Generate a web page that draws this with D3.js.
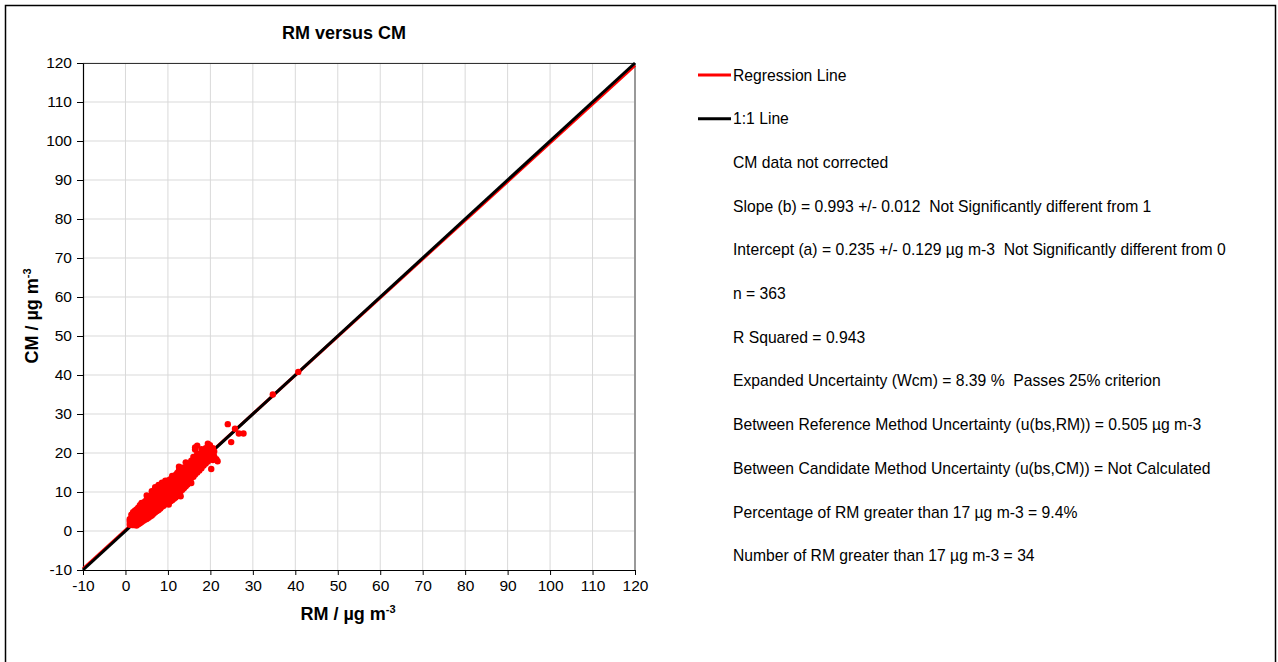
<!DOCTYPE html>
<html>
<head>
<meta charset="utf-8">
<script src="https://cdn.jsdelivr.net/npm/d3@7"></script>
<style>
  body { margin: 0; background: #fff; }
  svg { display: block; font-family: "Liberation Sans", Arial, sans-serif; }
  .grid line { stroke: #d9d9d9; stroke-width: 1; }
  .axis text { font-size: 15.5px; fill: #000; }
  .axis path, .axis line { stroke: #000; }
  .stat { font-size: 15.7px; white-space: pre; }
</style>
</head>
<body>
<div class="panel"></div>
<script>
// Data

const domain = [-10, 120];
const ticks = d3.range(-10, 121, 10);

const slope = 0.993;
const intercept = 0.235;

// RM (x) vs CM (y), estimated from the scatter
const points = [
  [1.0,1.6],[1.0,2.4],[1.0,3.0],
  [1.4,1.9],[1.4,2.6],[1.4,3.4],[1.4,4.2],
  [1.8,1.5],[1.8,2.3],[1.8,3.1],[1.8,3.9],[1.8,4.8],
  [2.2,1.8],[2.2,2.7],[2.2,3.5],[2.2,4.3],[2.2,5.2],
  [2.6,1.4],[2.6,2.2],[2.6,3.0],[2.6,3.8],[2.6,4.6],[2.6,5.5],
  [3.0,1.7],[3.0,2.6],[3.0,3.4],[3.0,4.2],[3.0,5.1],[3.0,6.0],
  [3.4,2.0],[3.4,2.9],[3.4,3.7],[3.4,4.6],[3.4,5.5],[3.4,6.6],
  [3.8,2.3],[3.8,3.2],[3.8,4.1],[3.8,5.0],[3.8,5.9],[3.8,7.2],
  [4.2,2.6],[4.2,3.5],[4.2,4.4],[4.2,5.3],[4.2,6.2],[4.2,7.0],
  [4.6,2.9],[4.6,3.8],[4.6,4.8],[4.6,5.7],[4.6,6.6],[4.6,7.6],
  [5.0,3.1],[5.0,4.2],[5.0,5.1],[5.0,6.0],[5.0,6.9],[5.0,8.0],[5.0,9.1],
  [5.4,3.4],[5.4,4.5],[5.4,5.5],[5.4,6.4],[5.4,7.3],[5.4,8.4],
  [5.8,3.7],[5.8,4.8],[5.8,5.8],[5.8,6.8],[5.8,7.7],[5.8,8.8],
  [6.2,4.0],[6.2,5.2],[6.2,6.2],[6.2,7.1],[6.2,8.1],[6.2,9.2],[6.2,10.2],
  [6.6,4.4],[6.6,5.5],[6.6,6.6],[6.6,7.5],[6.6,8.5],[6.6,9.6],
  [7.0,4.8],[7.0,5.9],[7.0,6.9],[7.0,7.9],[7.0,8.9],[7.0,10.0],[7.0,11.2],
  [7.4,5.1],[7.4,6.2],[7.4,7.3],[7.4,8.3],[7.4,9.3],[7.4,10.4],
  [7.8,5.4],[7.8,6.6],[7.8,7.7],[7.8,8.7],[7.8,9.7],[7.8,10.8],[7.8,11.8],
  [8.2,5.8],[8.2,7.0],[8.2,8.1],[8.2,9.1],[8.2,10.1],[8.2,11.2],
  [8.6,6.2],[8.6,7.4],[8.6,8.5],[8.6,9.5],[8.6,10.5],[8.6,11.6],[8.6,12.4],
  [9.0,6.5],[9.0,7.7],[9.0,8.9],[9.0,9.9],[9.0,10.9],[9.0,11.9],
  [9.4,6.9],[9.4,8.1],[9.4,9.3],[9.4,10.3],[9.4,11.3],[9.4,12.3],[9.4,12.9],
  [9.8,7.2],[9.8,8.5],[9.8,9.7],[9.8,10.7],[9.8,11.7],[9.8,12.6],
  [10.2,6.8],[10.2,7.9],[10.2,9.0],[10.2,10.1],[10.2,11.1],[10.2,12.1],[10.2,13.0],
  [10.6,7.6],[10.6,8.8],[10.6,10.0],[10.6,11.0],[10.6,12.0],[10.6,13.3],
  [11.0,7.9],[11.0,9.2],[11.0,10.4],[11.0,11.4],[11.0,12.4],[11.0,13.6],[11.0,14.1],
  [11.4,8.3],[11.4,9.6],[11.4,10.8],[11.4,11.9],[11.4,12.9],[11.4,13.9],
  [11.8,8.6],[11.8,10.0],[11.8,11.2],[11.8,12.3],[11.8,13.3],[11.8,14.4],
  [12.2,9.0],[12.2,10.5],[12.2,11.7],[12.2,12.8],[12.2,13.8],[12.2,14.9],
  [12.6,9.4],[12.6,10.8],[12.6,12.1],[12.6,13.2],[12.6,14.3],[12.6,15.6],[12.6,16.5],
  [13.0,8.9],[13.0,10.2],[13.0,11.4],[13.0,12.6],[13.0,13.7],[13.0,14.8],
  [13.4,10.6],[13.4,11.9],[13.4,13.1],[13.4,14.2],[13.4,15.3],[13.4,16.2],
  [13.8,11.0],[13.8,12.4],[13.8,13.6],[13.8,14.7],[13.8,15.8],
  [14.2,11.5],[14.2,12.9],[14.2,14.1],[14.2,15.2],[14.2,16.4],[14.2,17.6],
  [14.6,11.9],[14.6,13.3],[14.6,14.6],[14.6,15.7],[14.6,16.9],
  [15.0,12.3],[15.0,13.8],[15.0,15.1],[15.0,16.2],[15.0,17.3],
  [15.5,12.3],[15.5,13.6],[15.5,14.9],[15.5,16.0],[15.5,17.2],[15.5,18.0],
  [16.0,13.9],[16.0,15.3],[16.0,16.6],[16.0,17.8],[16.0,19.0],
  [16.4,14.5],[16.4,15.8],[16.4,17.2],[16.4,18.4],[16.4,20.9],[16.4,21.4],
  [16.9,15.0],[16.9,16.3],[16.9,17.6],[16.9,18.9],[16.9,19.8],[16.9,21.9],
  [17.4,15.5],[17.4,16.9],[17.4,18.1],[17.4,19.4],
  [17.9,16.1],[17.9,17.5],[17.9,18.8],[17.9,20.0],[17.9,21.0],
  [18.4,16.8],[18.4,18.1],[18.4,19.3],[18.4,20.5],
  [18.9,17.3],[18.9,18.6],[18.9,19.9],[18.9,21.2],
  [19.4,17.8],[19.4,19.1],[19.4,20.4],[19.4,21.6],[19.4,22.4],
  [19.9,18.4],[19.9,19.7],[19.9,20.9],[19.9,22.0],
  [20.2,15.9],[20.2,19.1],[20.2,20.3],
  [20.6,18.2],[20.6,19.4],[20.6,21.2],
  [20.9,19.1],[20.9,20.4],
  [21.4,18.4],[21.7,17.9],
  [24.1,27.4],[25.8,26.2],[26.7,25.0],[27.8,25.0],[24.9,22.8],
  [34.7,35.0],[40.7,40.8]
];

const legendItems = [
  { label: "Regression Line", color: "#ff0000" },
  { label: "1:1 Line", color: "#000000" }
];

const statLines = [
  "CM data not corrected",
  "Slope (b) = 0.993 +/- 0.012  Not Significantly different from 1",
  "Intercept (a) = 0.235 +/- 0.129 µg m-3  Not Significantly different from 0",
  "n = 363",
  "R Squared = 0.943",
  "Expanded Uncertainty (Wcm) = 8.39 %  Passes 25% criterion",
  "Between Reference Method Uncertainty (u(bs,RM)) = 0.505 µg m-3",
  "Between Candidate Method Uncertainty (u(bs,CM)) = Not Calculated",
  "Percentage of RM greater than 17 µg m-3 = 9.4%",
  "Number of RM greater than 17 µg m-3 = 34"
];

// Chart

const width = 1278, height = 662;
const plot = { left: 83, right: 635, top: 63, bottom: 570 };

const svg = d3.select(".panel").append("svg")
    .attr("width", width)
    .attr("height", height);

svg.append("rect")
    .attr("x", 5.5).attr("y", 5.5)
    .attr("width", 1270).attr("height", 665)
    .attr("fill", "#fff")
    .attr("stroke", "#000")
    .attr("stroke-width", 1.5);

const x = d3.scaleLinear().domain(domain).range([plot.left, plot.right]);
const y = d3.scaleLinear().domain(domain).range([plot.bottom, plot.top]);

// gridlines
const grid = svg.append("g").attr("class", "grid");
grid.selectAll(".gx")
    .data(ticks.slice(1))
    .enter().append("line")
    .attr("x1", d => x(d)).attr("x2", d => x(d))
    .attr("y1", plot.top).attr("y2", plot.bottom);
grid.selectAll(".gy")
    .data(ticks.slice(1))
    .enter().append("line")
    .attr("x1", plot.left).attr("x2", plot.right)
    .attr("y1", d => y(d)).attr("y2", d => y(d));

// plot frame: top dark, right grey
svg.append("line")
    .attr("x1", plot.left).attr("x2", plot.right)
    .attr("y1", plot.top + 0.5).attr("y2", plot.top + 0.5)
    .attr("stroke", "#333");
svg.append("line")
    .attr("x1", plot.right).attr("x2", plot.right)
    .attr("y1", plot.top).attr("y2", plot.bottom)
    .attr("stroke", "#999").attr("stroke-width", 2);

// axes (plain hyphen for negatives, as in the original)
const fmt = d => String(d);

svg.append("g")
    .attr("class", "axis")
    .attr("transform", `translate(${plot.left},0)`)
    .call(d3.axisLeft(y).tickValues(ticks).tickFormat(fmt).tickSize(6).tickPadding(5).tickSizeOuter(0));

svg.append("g")
    .attr("class", "axis")
    .attr("transform", `translate(0,${plot.bottom})`)
    .call(d3.axisBottom(x).tickValues(ticks).tickFormat(fmt).tickSize(5).tickPadding(5).tickSizeOuter(0));

svg.selectAll(".axis .domain").attr("stroke-width", 1.2);

// regression and 1:1 lines
const line = d3.line().x(d => x(d[0])).y(d => y(d[1]));

svg.append("path")
    .datum(domain.map(v => [v, intercept + slope * v]))
    .attr("d", line)
    .attr("fill", "none")
    .attr("stroke", legendItems[0].color)
    .attr("stroke-width", 3);

svg.append("path")
    .datum(domain.map(v => [v, v]))
    .attr("d", line)
    .attr("fill", "none")
    .attr("stroke", legendItems[1].color)
    .attr("stroke-width", 3);

// scatter
svg.append("g")
    .selectAll("circle")
    .data(points)
    .enter().append("circle")
    .attr("cx", d => x(d[0]))
    .attr("cy", d => y(d[1]))
    .attr("r", 3.2)
    .attr("fill", "#ff0000");

// titles
svg.append("text")
    .attr("x", 344).attr("y", 39)
    .attr("text-anchor", "middle")
    .attr("font-size", 18).attr("font-weight", "bold")
    .text("RM versus CM");

const xTitle = svg.append("text")
    .attr("x", 348).attr("y", 620)
    .attr("text-anchor", "middle")
    .attr("font-size", 18).attr("font-weight", "bold");
xTitle.append("tspan").text("RM / µg m");
xTitle.append("tspan").attr("dy", -7).attr("font-size", 11).text("-3");

const yTitle = svg.append("text")
    .attr("transform", "translate(38,316) rotate(-90)")
    .attr("text-anchor", "middle")
    .attr("font-size", 18).attr("font-weight", "bold");
yTitle.append("tspan").text("CM / µg m");
yTitle.append("tspan").attr("dy", -7).attr("font-size", 11).text("-3");

// legend
const legend = svg.append("g");
legendItems.forEach((d, i) => {
    const ly = 75 + i * 43.7;
    legend.append("line")
        .attr("x1", 698).attr("x2", 731)
        .attr("y1", ly).attr("y2", ly)
        .attr("stroke", d.color).attr("stroke-width", 3);
    legend.append("text")
        .attr("class", "stat")
        .attr("x", 733).attr("y", ly + 5.5)
        .text(d.label);
});

legend.selectAll(".line")
    .data(statLines)
    .enter().append("text")
    .attr("class", "stat")
    .attr("x", 733)
    .attr("y", (d, i) => 75 + (i + 2) * 43.7 + 5.5)
    .text(d => d);
</script>
</body>
</html>
